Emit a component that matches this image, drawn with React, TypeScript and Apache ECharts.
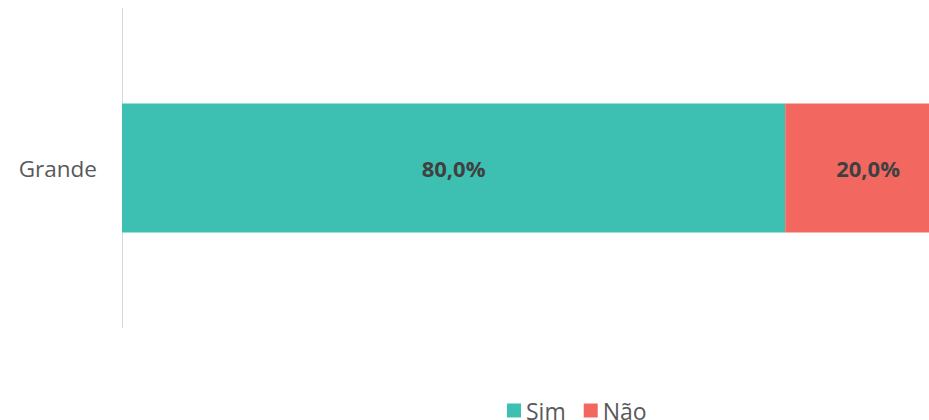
import React, { useEffect, useRef } from "react";
import * as echarts from "echarts";

const categories = ["Grande"];
const simValues = [80.0];
const naoValues = [20.0];
const seriesNames = ["Sim", "Não"];

const fmt = (v: number) => v.toFixed(1).replace(".", ",") + "%";

export default function App() {
  const ref = useRef<HTMLDivElement>(null);
  useEffect(() => {
    if (!ref.current) return;
    const chart = echarts.init(ref.current, undefined, { renderer: "svg" });
    const labelCfg = {
      show: true,
      position: "inside",
      formatter: (p: any) => fmt(p.value),
      color: "#404040",
      fontSize: 22,
      fontWeight: "bold",
      fontFamily: "Open Sans",
    };
    chart.setOption({
      animation: false,
      textStyle: { fontFamily: "Open Sans" },
      grid: { left: 122, right: 0, top: 8, bottom: 92, containLabel: false },
      legend: {
        data: seriesNames,
        left: 502,
        top: 394,
        itemWidth: 14,
        itemHeight: 14,
        itemGap: 18,
        icon: "rect",
        textStyle: { color: "#595959", fontSize: 23, fontFamily: "Open Sans" },
      },
      xAxis: {
        type: "value",
        min: 0,
        max: 100,
        show: false,
      },
      yAxis: {
        type: "category",
        data: categories,
        axisTick: { show: false },
        axisLine: { show: true, lineStyle: { color: "#D9D9D9", width: 1 } },
        axisLabel: { color: "#595959", fontSize: 22.5, margin: 25, fontFamily: "Open Sans" },
        splitLine: { show: false },
      },
      series: [
        {
          name: seriesNames[0],
          type: "bar",
          stack: "total",
          data: simValues,
          barWidth: "40.3%",
          itemStyle: { color: "#3DBFB2" },
          label: labelCfg,
        },
        {
          name: seriesNames[1],
          type: "bar",
          stack: "total",
          data: naoValues,
          barWidth: "40.3%",
          itemStyle: { color: "#F26860" },
          label: labelCfg,
        },
      ],
    });
    return () => chart.dispose();
  }, []);
  return (
    <div style={{ position: "absolute", left: 0, top: 0, width: 929, height: 420, overflow: "hidden" }}>
      <div ref={ref} style={{ width: 951, height: 420 }} />
    </div>
  );
}
